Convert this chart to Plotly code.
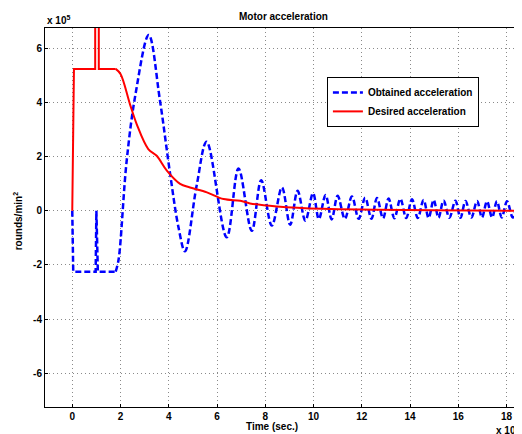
import plotly.graph_objects as go

# Time axis in units of 1e-3 s, acceleration in units of 1e5 rounds/min^2
x_ticks = [0, 2, 4, 6, 8, 10, 12, 14, 16, 18]
y_ticks = [-6, -4, -2, 0, 2, 4, 6]

# Obtained acceleration (blue dashed) – start-up section
obt_start_x = [0, 0.04, 0.97, 1.0, 1.06, 1.8]
obt_start_y = [0, -2.25, -2.25, 0, -2.25, -2.25]

# Obtained acceleration – oscillating section
obt_x = [1.8, 1.92, 2.25, 2.62, 3.17, 3.63, 4.05, 4.4, 4.67, 5.15, 5.57, 6.4, 6.89, 7.44,
         7.83, 8.27, 8.69, 9.03, 9.34, 9.66, 9.98, 10.22, 10.5, 10.75, 11.0, 11.3, 11.59,
         11.87, 12.14, 12.4, 12.63, 12.88, 13.11, 13.35, 13.6, 13.84, 14.08, 14.32, 14.56,
         14.77, 14.98, 15.18, 15.39, 15.63, 15.88, 16.09, 16.3, 16.54, 16.78, 16.98, 17.19,
         17.4, 17.6, 17.8, 18.02, 18.26, 18.5, 18.74]
obt_y = [-2.25, -1.8, 1.8, 4.3, 6.49, 4.1, 1.4, -0.6, -1.5, 0.9, 2.55, -0.98, 1.56, -0.74,
         1.13, -0.55, 0.86, -0.52, 0.74, -0.37, 0.65, -0.31, 0.58, -0.32, 0.55, -0.3, 0.53,
         -0.3, 0.48, -0.3, 0.47, -0.28, 0.45, -0.28, 0.44, -0.27, 0.42, -0.27, 0.4,
         -0.27, 0.4, -0.26, 0.38, -0.26, 0.37, -0.26, 0.36, -0.25, 0.36, -0.25, 0.35,
         -0.25, 0.35, -0.25, 0.35, -0.25, 0.35, -0.25]

# Desired acceleration (red solid) – start-up section with spike
des_start_x = [0, 0.07, 0.95, 0.95, 1.1, 1.1, 1.8]
des_start_y = [0, 5.24, 5.24, 9.0, 9.0, 5.24, 5.24]

# Desired acceleration – decay section
des_x = [1.8, 2.0, 2.39, 2.67, 3.15, 3.5, 3.92, 4.47, 4.88, 5.58, 6.27, 6.96, 7.37, 8.48,
         10.4, 12.5, 15.0, 18.7]
des_y = [5.24, 5.05, 3.94, 3.2, 2.28, 2.03, 1.48, 0.99, 0.86, 0.68, 0.43, 0.37, 0.27, 0.16,
         0.07, 0.04, 0.02, 0.0]

BLUE = "#0000FF"
RED = "#FF0000"
FONT = "Liberation Sans, Arial, sans-serif"
blue_line = dict(color=BLUE, width=2.5, dash="6px,3px")
red_line = dict(color=RED, width=2)

fig = go.Figure()
fig.add_trace(go.Scatter(x=obt_start_x, y=obt_start_y, mode="lines", line=blue_line,
                         name="Obtained acceleration", legendgroup="obt", showlegend=True))
fig.add_trace(go.Scatter(x=obt_x, y=obt_y, mode="lines", line=dict(blue_line, shape="spline"),
                         name="Obtained acceleration", legendgroup="obt", showlegend=False))
fig.add_trace(go.Scatter(x=des_start_x, y=des_start_y, mode="lines", line=red_line,
                         name="Desired acceleration", legendgroup="des", showlegend=True))
fig.add_trace(go.Scatter(x=des_x, y=des_y, mode="lines", line=dict(red_line, shape="spline"),
                         name="Desired acceleration", legendgroup="des", showlegend=False))

axis_common = dict(
    showline=True, linecolor="black", linewidth=1, mirror=True,
    ticks="inside", ticklen=3, tickcolor="black",
    showgrid=True, gridcolor="#8a8a8a", gridwidth=1, griddash="1px,3px",
    zeroline=False, automargin=False,
    tickfont=dict(family=FONT, size=10, color="black", weight="bold"),
)

fig.update_xaxes(range=[-1.13, 18.64], tickvals=x_ticks,
                 ticktext=[str(v) for v in x_ticks], **axis_common)
fig.update_yaxes(range=[-7.25, 6.75], tickvals=y_ticks,
                 ticktext=[str(v) for v in y_ticks], **axis_common)

bold = dict(family=FONT, size=10, color="black", weight="bold")
fig.update_layout(
    width=514, height=426,
    margin=dict(l=37, r=0, t=20, b=27),
    paper_bgcolor="white", plot_bgcolor="white",
    font=dict(family=FONT, color="black"),
    legend=dict(x=0.591, y=0.871, xanchor="left", yanchor="top",
                bgcolor="white", bordercolor="black", borderwidth=1,
                font=dict(family=FONT, size=10, color="black", weight="bold"),
                tracegroupgap=0, itemwidth=30),
    annotations=[
        dict(text="Motor acceleration", xref="paper", yref="paper", x=0.5, y=1,
             xanchor="center", yanchor="bottom", yshift=4, showarrow=False, font=bold),
        dict(text="x 10<sup>5</sup>", xref="paper", yref="paper", x=0, y=1,
             xanchor="left", yanchor="bottom", yshift=0, showarrow=False, font=bold),
        dict(text="Time (sec.)", xref="paper", yref="paper", x=0.476, y=0,
             xanchor="center", yanchor="top", yshift=-12, showarrow=False, font=bold),
        dict(text="x 10<sup>-3</sup>", xref="paper", yref="paper", x=1, y=0,
             xanchor="left", yanchor="top", xshift=-28, yshift=-15, showarrow=False, font=bold),
        dict(text="rounds/min<sup>2</sup>", xref="paper", yref="paper", x=0, y=0.49,
             xanchor="right", yanchor="middle", xshift=-19, textangle=-90,
             showarrow=False, font=bold),
    ],
)

fig.write_html("out.html")
